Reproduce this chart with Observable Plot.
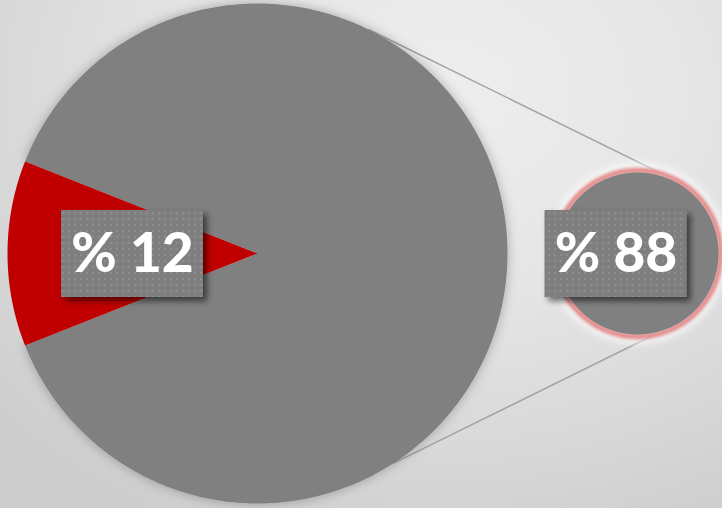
<!DOCTYPE html>
<html>
<head>
<meta charset="utf-8">
<script src="https://cdn.jsdelivr.net/npm/d3@7"></script>
<script src="https://cdn.jsdelivr.net/npm/@observablehq/plot@0.6"></script>
<style>
  html, body { margin: 0; padding: 0; }
  body { width: 722px; height: 508px; overflow: hidden; }
</style>
</head>
<body>
<div id="chart"></div>
<script>
// ---- data ----
const categories = ["Share A", "Share B"];
const values = [12, 88];
const labels = ["% 12", "% 88"];
const colors = ["#c00000", "#808080"];

// ---- layout ----
const W = 722, H = 508;
const big = {cx: 257, cy: 253, r: 250};
const small = {cx: 637, cy: 253, r: 81};
const total = d3.sum(values);
const span0 = values[0] / total * 2 * Math.PI;
// first slice centred on the left side (d3 angles: clockwise from 12 o'clock)
const pie = d3.pie().sort(null)
  .startAngle(1.5 * Math.PI - span0 / 2)
  .endAngle(3.5 * Math.PI - span0 / 2);
const arcs = pie(values);

function slicePolygon(a, c, name) {
  const pts = [{x: c.cx, y: c.cy, s: name}];
  const n = Math.max(8, Math.ceil((a.endAngle - a.startAngle) / (Math.PI / 180)));
  for (let i = 0; i <= n; i++) {
    const t = a.startAngle + (a.endAngle - a.startAngle) * i / n;
    pts.push({x: c.cx + c.r * Math.sin(t), y: c.cy - c.r * Math.cos(t), s: name});
  }
  return pts;
}
function circlePolygon(c, r, name) {
  const pts = [];
  for (let i = 0; i < 180; i++) {
    const t = i / 180 * 2 * Math.PI;
    pts.push({x: c.cx + r * Math.cos(t), y: c.cy + r * Math.sin(t), s: name});
  }
  return pts;
}
function onCircle(c, r, deg) {
  const t = deg * Math.PI / 180;
  return {x: c.cx + r * Math.cos(t), y: c.cy + r * Math.sin(t)};
}

const redSlice = slicePolygon(arcs[0], big, categories[0]);
const graySlice = slicePolygon(arcs[1], big, categories[1]);
const smallCircle = circlePolygon(small, small.r, "small");

// connector lines (screen angles, degrees)
const c1a = onCircle(big, big.r, -63.5), c1b = onCircle(small, small.r + 3, -75);
const c2a = onCircle(big, big.r, 57), c2b = onCircle(small, small.r + 3, 81);
const connectors = [
  {x: c1a.x, y: c1a.y, k: "top"}, {x: c1b.x, y: c1b.y, k: "top"},
  {x: c2a.x, y: c2a.y, k: "bot"}, {x: c2b.x, y: c2b.y, k: "bot"}
];

// label positions
const mid0 = (arcs[0].startAngle + arcs[0].endAngle) / 2;
const labelPos = [
  {x: big.cx + big.r * 0.5 * Math.sin(mid0), y: big.cy - big.r * 0.5 * Math.cos(mid0) + 0.5},
  {x: small.cx - 21.5, y: small.cy + 0.5}
];
const boxW = 142, boxH = 87;
const labelData = labels.map((t, i) => ({text: t, x: labelPos[i].x, y: labelPos[i].y}));

const plot = Plot.plot({
  width: W, height: H,
  marginTop: 0, marginRight: 0, marginBottom: 0, marginLeft: 0,
  x: {domain: [0, W], range: [0, W], axis: null},
  y: {domain: [0, H], range: [0, H], axis: null},
  style: {background: "transparent", overflow: "visible"},
  marks: [
    Plot.line(connectors, {x: "x", y: "y", z: "k", stroke: "#a3a3a3", strokeWidth: 1.5}),
    Plot.line(graySlice, {x: "x", y: "y", fill: colors[1], stroke: "none", curve: "linear-closed", className: "bigpie"}),
    Plot.line(redSlice, {x: "x", y: "y", fill: colors[0], stroke: "none", curve: "linear-closed"}),
    Plot.line(circlePolygon(small, small.r + 6, "glow"), {x: "x", y: "y", fill: "none", stroke: "#ffffff", strokeWidth: 7, strokeOpacity: 0.7, curve: "linear-closed", className: "whiteglow"}),
    Plot.line(circlePolygon(small, small.r + 2, "ring"), {x: "x", y: "y", fill: "none", stroke: "#e58f8f", strokeWidth: 5.5, curve: "linear-closed", className: "pinkring"}),
    Plot.line(smallCircle, {x: "x", y: "y", fill: colors[1], stroke: "none", curve: "linear-closed"}),
    Plot.rect(labelData, {x1: d => d.x - boxW / 2, x2: d => d.x + boxW / 2, y1: d => d.y - boxH / 2, y2: d => d.y + boxH / 2, fill: "#7f7f7f", className: "lblbox"}),
    Plot.text(labelData, {x: "x", y: "y", text: "text", fill: "white", fontSize: 55, fontWeight: 900, fontFamily: "Lato, 'Open Sans', sans-serif", textAnchor: "middle", lineAnchor: "middle"})
  ]
});

const svg = d3.select(plot);
svg.insert("defs", ":first-child").html(`
  <pattern id="dots" width="6" height="6" patternUnits="userSpaceOnUse">
    <rect width="6" height="6" fill="#7f7f7f"/>
    <rect x="2" y="2" width="2" height="2" fill="#8e8e8e"/>
  </pattern>
  <filter id="bigShadow" x="-20%" y="-20%" width="140%" height="140%">
    <feDropShadow dx="0" dy="0" stdDeviation="6" flood-color="#000" flood-opacity="0.28"/>
  </filter>
  <filter id="boxShadow" x="-20%" y="-20%" width="150%" height="150%">
    <feDropShadow dx="4" dy="4" stdDeviation="3" flood-color="#000" flood-opacity="0.55"/>
  </filter>
  <filter id="blur2" x="-20%" y="-20%" width="140%" height="140%">
    <feGaussianBlur stdDeviation="1.4"/>
  </filter>
  <filter id="blur4" x="-20%" y="-20%" width="140%" height="140%">
    <feGaussianBlur stdDeviation="3.5"/>
  </filter>
`);
svg.selectAll(".bigpie").attr("filter", "url(#bigShadow)");
svg.selectAll(".pinkring").attr("filter", "url(#blur2)");
svg.selectAll(".whiteglow").attr("filter", "url(#blur4)");
svg.selectAll(".lblbox").attr("filter", "url(#boxShadow)").selectAll("rect").attr("fill", "url(#dots)");

const wrap = document.getElementById("chart");
wrap.style.width = W + "px";
wrap.style.height = H + "px";
wrap.style.background = "radial-gradient(ellipse 85% 95% at 62% 18%, #eeeeee 0%, #e6e6e6 40%, #d8d8d8 75%, #cdcdcd 100%)";
wrap.appendChild(plot);
</script>
</body>
</html>
